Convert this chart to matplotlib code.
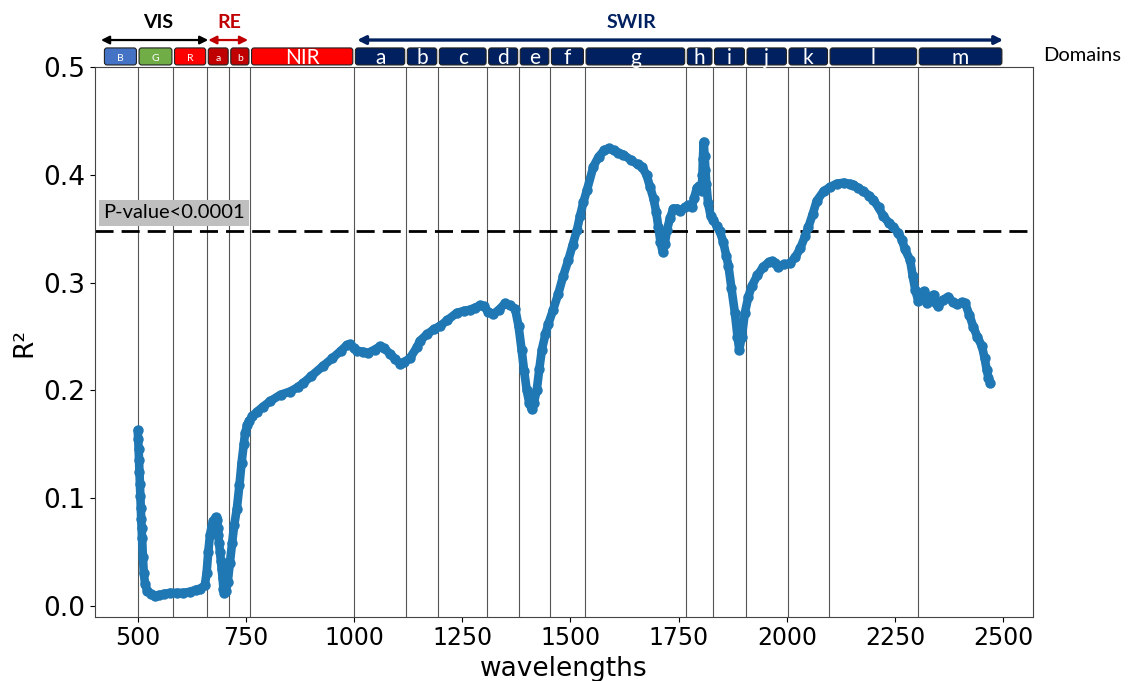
import matplotlib.pyplot as plt
from matplotlib.patches import FancyBboxPatch

# R² values (wavelength in nm)
wavelengths = [
    500, 501, 502, 503, 504, 505, 506, 507, 508, 509, 510, 512, 514, 517, 522,
    530, 540, 550, 560, 575, 590, 605, 621, 635, 645, 655, 659, 663, 667, 671,
    675, 680, 683, 685, 686, 688, 690, 692, 694, 696, 698, 700, 704, 708, 713,
    718, 723, 729, 735, 740, 745, 748, 753, 758, 765, 775, 790, 806, 830, 852,
    870, 883, 900, 929, 950, 970, 983, 990, 1000, 1006, 1020, 1033, 1048, 1060,
    1070, 1083, 1095, 1106, 1115, 1129, 1145, 1152, 1168, 1185, 1199, 1215,
    1237, 1255, 1268, 1280, 1291, 1300, 1310, 1322, 1335, 1349, 1360, 1372,
    1380, 1387, 1393, 1399, 1405, 1410, 1415, 1422, 1428, 1434, 1442, 1449,
    1460, 1472, 1483, 1495, 1505, 1515, 1522, 1530, 1538, 1553, 1565, 1578,
    1588, 1600, 1610, 1622, 1640, 1655, 1665, 1676, 1684, 1692, 1698, 1703,
    1708, 1713, 1718, 1723, 1730, 1738, 1746, 1754, 1765, 1772, 1780, 1786,
    1792, 1798, 1803, 1805, 1806, 1808, 1810, 1812, 1814, 1818, 1824, 1830,
    1838, 1845, 1853, 1860, 1865, 1872, 1880, 1886, 1890, 1896, 1903, 1911,
    1919, 1932, 1946, 1958, 1965, 1973, 1980, 1993, 2007, 2020, 2031, 2042,
    2050, 2060, 2069, 2085, 2100, 2115, 2131, 2145, 2154, 2165, 2177, 2190,
    2200, 2212, 2223, 2235, 2246, 2258, 2266, 2273, 2285, 2291, 2297, 2304,
    2310, 2316, 2323, 2330, 2339, 2345, 2350, 2360, 2373, 2383, 2393, 2405,
    2412, 2422, 2431, 2440, 2451, 2457, 2462, 2466, 2470,
]
r2_values = [
    0.163, 0.155, 0.146, 0.135, 0.124, 0.113, 0.102, 0.091, 0.081, 0.072, 0.063,
    0.045, 0.030, 0.020, 0.014, 0.011, 0.0095, 0.010, 0.011, 0.012, 0.012, 0.012,
    0.013, 0.015, 0.016, 0.019, 0.030, 0.050, 0.066, 0.074, 0.079, 0.082, 0.080,
    0.072, 0.066, 0.058, 0.050, 0.042, 0.034, 0.026, 0.016, 0.012, 0.014, 0.022,
    0.040, 0.058, 0.075, 0.090, 0.112, 0.133, 0.150, 0.160, 0.168, 0.172, 0.176,
    0.180, 0.185, 0.190, 0.196, 0.199, 0.203, 0.207, 0.213, 0.223, 0.230, 0.237,
    0.242, 0.243, 0.239, 0.237, 0.236, 0.235, 0.238, 0.241, 0.239, 0.234, 0.229,
    0.225, 0.226, 0.230, 0.240, 0.246, 0.252, 0.257, 0.260, 0.265, 0.272, 0.274,
    0.275, 0.277, 0.279, 0.278, 0.273, 0.271, 0.275, 0.281, 0.279, 0.276, 0.260,
    0.238, 0.218, 0.200, 0.188, 0.183, 0.188, 0.200, 0.220, 0.238, 0.252, 0.262,
    0.275, 0.290, 0.306, 0.321, 0.335, 0.349, 0.362, 0.375, 0.386, 0.408, 0.417,
    0.423, 0.425, 0.423, 0.421, 0.419, 0.414, 0.410, 0.408, 0.400, 0.389, 0.378,
    0.366, 0.352, 0.338, 0.329, 0.336, 0.349, 0.360, 0.369, 0.369, 0.367, 0.370,
    0.372, 0.370, 0.379, 0.388, 0.390, 0.385, 0.400, 0.415, 0.431, 0.418, 0.405,
    0.392, 0.374, 0.362, 0.358, 0.353, 0.348, 0.338, 0.325, 0.316, 0.295, 0.272,
    0.250, 0.238, 0.250, 0.272, 0.287, 0.297, 0.307, 0.315, 0.319, 0.320, 0.318,
    0.315, 0.317, 0.318, 0.324, 0.332, 0.343, 0.352, 0.364, 0.376, 0.385, 0.389,
    0.392, 0.393, 0.392, 0.391, 0.388, 0.385, 0.381, 0.377, 0.370, 0.362, 0.356,
    0.352, 0.346, 0.340, 0.331, 0.321, 0.306, 0.293, 0.283, 0.290, 0.292, 0.281,
    0.287, 0.289, 0.281, 0.278, 0.284, 0.287, 0.282, 0.280, 0.282, 0.281, 0.270,
    0.259, 0.250, 0.241, 0.230, 0.219, 0.212, 0.207,
]

# spectral bands (edges in nm) shown as boxes above the plot
band_edges = [420, 500, 582, 660, 712, 760, 1000, 1120, 1194, 1308, 1381,
              1453, 1533, 1767, 1830, 1905, 2002, 2097, 2303, 2500]
band_labels = ["B", "G", "R", "a", "b", "NIR", "a", "b", "c", "d", "e", "f",
               "g", "h", "i", "j", "k", "l", "m"]
band_colors = ["#4472C4", "#70AD47", "#FF0000", "#C00000", "#C00000",
               "#FF0000"] + ["#002060"] * 13

domain_names = ["VIS", "RE", "SWIR"]
domain_ranges = [(415, 663), (663, 755), (1007, 2500)]
domain_colors = ["black", "#C00000", "#002060"]

p_threshold = 0.348
x_ticks = [500, 750, 1000, 1250, 1500, 1750, 2000, 2250, 2500]
y_ticks = [0.0, 0.1, 0.2, 0.3, 0.4, 0.5]

LABEL_FONT = ["Lato", "DejaVu Sans"]


def draw_bands(ax):
    """Coloured band boxes, domain arrows and labels above the axes."""
    trans = ax.get_xaxis_transform()
    for i, label in enumerate(band_labels):
        x0 = band_edges[i] + 3
        x1 = band_edges[i + 1] - 3
        box = FancyBboxPatch((x0, 1.0046), x1 - x0, 0.031,
                             boxstyle="round,pad=0,rounding_size=6",
                             mutation_aspect=0.0008, transform=trans,
                             clip_on=False, facecolor=band_colors[i],
                             edgecolor="#222222", linewidth=0.8)
        ax.add_patch(box)
        size = 7.5 if i < 5 else 15
        ax.text((x0 + x1) / 2, 1.017, label, transform=trans, ha="center",
                va="center", color="white", fontsize=size, family=LABEL_FONT,
                clip_on=False)

    # arrows for the domains
    label_x = [548, 712, 1640]
    for name, (x0, x1), color, lx in zip(domain_names, domain_ranges,
                                         domain_colors, label_x):
        lw = 1.6 if name != "SWIR" else 2.4
        ax.annotate("", xy=(x1, 1.05), xytext=(x0, 1.05), xycoords=trans,
                    textcoords=trans, annotation_clip=False,
                    arrowprops=dict(arrowstyle="<|-|>", color=color, lw=lw,
                                    shrinkA=0, shrinkB=0, mutation_scale=12))
        ax.text(lx, 1.082, name, transform=trans, ha="center", va="center",
                color=color, fontsize=14, fontweight="bold",
                family=LABEL_FONT, clip_on=False)


def plot_r2(ax):
    # band boundaries
    for edge in band_edges[1:-1]:
        ax.axvline(edge, color="#555555", lw=0.8, zorder=1)

    ax.axhline(p_threshold, color="black", lw=2, ls=(0, (6.5, 2.9)), zorder=2)
    ax.text(0.0085, 0.365, "P-value<0.0001", transform=ax.get_yaxis_transform(),
            ha="left", va="center", fontsize=14.5, family=LABEL_FONT,
            bbox=dict(facecolor="#BFBFBF", edgecolor="none", pad=3), zorder=4)

    ax.plot(wavelengths, r2_values, color="#1f77b4", lw=6.2, marker="o",
            ms=6.5, solid_capstyle="round", solid_joinstyle="round", zorder=3)

    ax.set_xlim(401.5, 2568.5)
    ax.set_ylim(-0.0102, 0.5)
    ax.set_xticks(x_ticks)
    ax.set_yticks(y_ticks)
    ax.set_yticklabels([f"{v:.1f}" for v in y_ticks])
    ax.tick_params(axis="x", labelsize=17)
    ax.tick_params(axis="y", labelsize=19)
    ax.set_xlabel("wavelengths", fontsize=19, labelpad=4)
    ax.set_ylabel("R²", fontsize=19)
    for spine in ax.spines.values():
        spine.set_color("#444444")


def main():
    fig = plt.figure(figsize=(11.31, 6.81), dpi=100)
    ax = fig.add_axes([0.0841, 0.0944, 0.8291, 0.8065])
    plot_r2(ax)
    draw_bands(ax)
    fig.text(0.922, 0.919, "Domains", ha="left", va="center", fontsize=14.5,
             family=LABEL_FONT)
    fig.savefig("out.png", dpi=100)


if __name__ == "__main__":
    main()
